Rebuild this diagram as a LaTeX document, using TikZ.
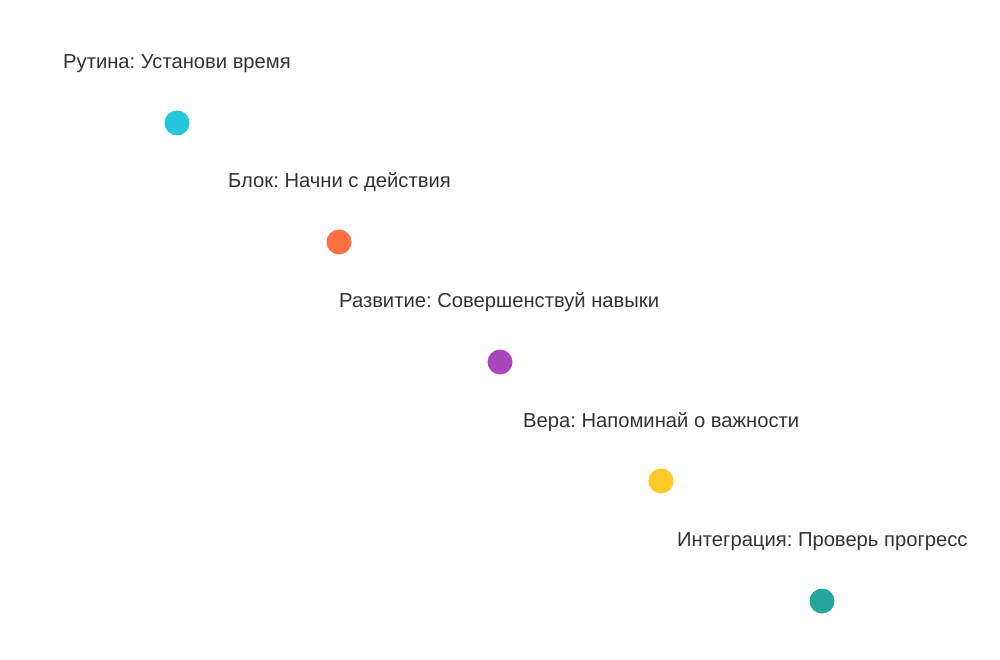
\documentclass[tikz,border=0pt]{standalone}
\usepackage{fontspec}
\setmainfont{Liberation Sans}
\usepackage{xcolor}
\usepackage{tikz}
\usetikzlibrary{calc,positioning}

\definecolor{dotcyan}{HTML}{26C6DA}
\definecolor{dotorange}{HTML}{FF7043}
\definecolor{dotpurple}{HTML}{AB47BC}
\definecolor{dotamber}{HTML}{FFCA28}
\definecolor{dotteal}{HTML}{26A69A}
\definecolor{labelgray}{HTML}{333333}

\tikzset{
    stage/.style = {anchor=base west, inner sep=0pt, text=labelgray, font=\fontsize{20.2}{24}\selectfont\frenchspacing},
    stagedot/.style = {circle, inner sep=0pt, minimum size=25pt},
}

\begin{document}
\begin{tikzpicture}[x=1pt, y=-1pt]
        \useasboundingbox (0, 0) rectangle (1000, 660);
        \node [stage] (routine) at (63, 68.5) {Рутина: Установи время};
        \node [stage] (block) at (228, 188) {Блок: Начни с действия};
        \node [stage] (growth) at (339, 307.5) {Развитие: Совершенствуй навыки};
        \node [stage] (belief) at (523, 427) {Вера: Напоминай о важности};
        \node [stage] (integr) at (677, 546.5) {Интеграция: Проверь прогресс};

        \node [stagedot, fill=dotcyan] (routinedot) at (177, 123) {}; % routine
        \node [stagedot, fill=dotorange] (blockdot) at (339, 242) {}; % block
        \node [stagedot, fill=dotpurple] (growthdot) at (500, 362) {}; % growth
        \node [stagedot, fill=dotamber] (beliefdot) at (661, 481) {}; % belief
        \node [stagedot, fill=dotteal] (integrdot) at (822, 601) {}; % integration

    \end{tikzpicture}
\end{document}
